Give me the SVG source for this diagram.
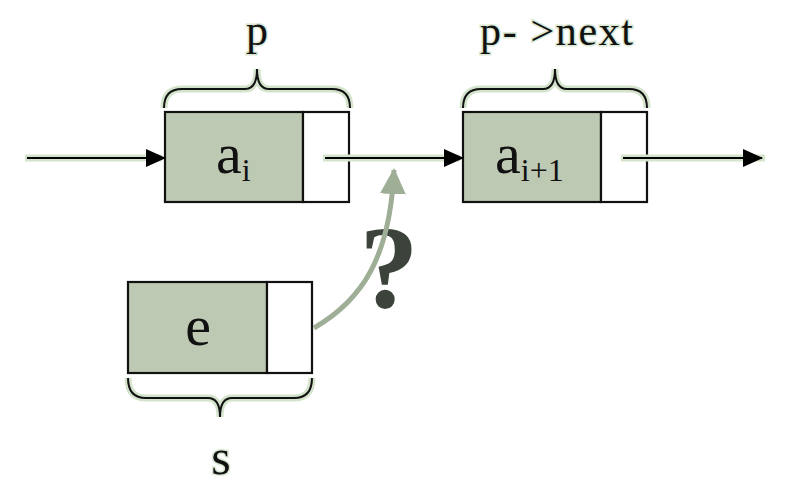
<svg xmlns="http://www.w3.org/2000/svg" width="788" height="485" viewBox="0 0 788 485">
<style>
.halo{fill:none;stroke:#d4e3cc;stroke-width:7}
.line{fill:none;stroke:#000;stroke-width:2.2}
.brace{fill:none;stroke:#111;stroke-width:2}
.data{fill:#bdc9b2;stroke:#111;stroke-width:2.2}
.ptr{fill:#fff;stroke:#111;stroke-width:2.2}
.t{font-family:"Liberation Serif","Times New Roman",serif;fill:#111}
.th{paint-order:stroke;stroke:#dbe8d3;stroke-width:3}
</style>
<defs>
<marker id="ah" viewBox="0 0 20 20" refX="19" refY="10" markerWidth="20" markerHeight="20" markerUnits="userSpaceOnUse" orient="auto">
<path d="M0,1 L20,10 L0,19 Z" fill="#000"/>
</marker>
<marker id="gh" viewBox="0 0 26 26" refX="24" refY="13" markerWidth="26" markerHeight="26" markerUnits="userSpaceOnUse" orient="auto">
<path d="M0,0 L26,13 L0,26 Z" fill="#9fae96"/>
</marker>
</defs>
<rect width="788" height="485" fill="#fff"/>
<g id="node-ai">
<path class="halo" d="M164,108 Q164,89 182,89 H245 Q257,89 257,69 Q257,89 269,89 H332 Q350,89 350,108"/>
<path class="brace" d="M164,108 Q164,89 182,89 H245 Q257,89 257,69 Q257,89 269,89 H332 Q350,89 350,108"/>
<text class="t th" x="257" y="45" font-size="44" text-anchor="middle">p</text>
<rect class="data" x="165" y="112" width="138" height="90"/>
<rect class="ptr" x="303" y="112" width="46" height="90"/>
<text class="t" x="216" y="173" font-size="58">a<tspan font-size="32" dy="8">i</tspan></text>
</g>
<g id="node-ai1">
<path class="halo" d="M463,108 Q463,89 481,89 H543 Q555,89 555,69 Q555,89 567,89 H629 Q647,89 647,108"/>
<path class="brace" d="M463,108 Q463,89 481,89 H543 Q555,89 555,69 Q555,89 567,89 H629 Q647,89 647,108"/>
<text class="t th" x="480" y="45" font-size="42" textLength="153">p- &gt;next</text>
<rect class="data" x="463" y="112" width="138" height="90"/>
<rect class="ptr" x="601" y="112" width="46" height="90"/>
<text class="t" x="495" y="173" font-size="58">a<tspan font-size="32" dy="8">i+1</tspan></text>
</g>
<g id="node-e">
<rect class="data" x="128" y="282" width="139" height="91"/>
<rect class="ptr" x="267" y="282" width="45" height="91"/>
<text class="t" x="198" y="345" font-size="58" text-anchor="middle">e</text>
<path class="halo" d="M128,378 Q128,398 146,398 H208 Q220,398 220,417 Q220,398 232,398 H294 Q312,398 312,378"/>
<path class="brace" d="M128,378 Q128,398 146,398 H208 Q220,398 220,417 Q220,398 232,398 H294 Q312,398 312,378"/>
<text class="t th" x="221" y="474" font-size="50" text-anchor="middle">s</text>
</g>
<g id="question">
<text class="t" x="389" y="307" font-size="118" font-weight="bold" text-anchor="middle" style="fill:#3b433a">?</text>
</g>
<g id="connectors">
<line class="halo" x1="25" y1="158" x2="162" y2="158"/>
<line class="halo" x1="323" y1="158" x2="460" y2="158"/>
<line class="halo" x1="621" y1="158" x2="765" y2="158"/>
<line class="line" x1="27" y1="158" x2="165" y2="158" marker-end="url(#ah)"/>
<line class="line" x1="325" y1="158" x2="463" y2="158" marker-end="url(#ah)"/>
<line class="line" x1="623" y1="158" x2="762" y2="158" marker-end="url(#ah)"/>
<path d="M314,328 C362,300 390,258 394,170" fill="none" stroke="#9fae96" stroke-width="5" marker-end="url(#gh)"/>
</g>
</svg>
